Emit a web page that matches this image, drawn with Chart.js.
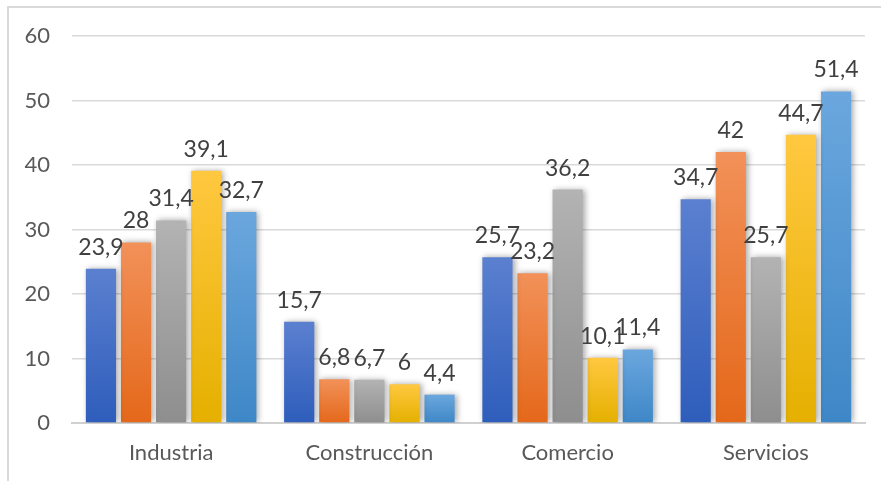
<!DOCTYPE html>
<html><head><meta charset="utf-8">
<style>
html,body{margin:0;padding:0;background:#fff;}
#wrap{position:relative;width:881px;height:481px;overflow:hidden;}
#frame{position:absolute;left:7px;top:6px;width:900px;height:500px;border:2px solid #d9d9d9;box-sizing:border-box;}
canvas{position:absolute;left:0;top:0;}
</style>
<script src="https://cdn.jsdelivr.net/npm/chart.js@4/dist/chart.umd.min.js"></script>
</head><body>
<div id="wrap"><div id="frame"></div><canvas id="c" width="881" height="481"></canvas></div>
<script>
const categories = ["Industria","Construcción","Comercio","Servicios"];
const serie1 = [23.9, 15.7, 25.7, 34.7];
const serie2 = [28, 6.8, 23.2, 42];
const serie3 = [31.4, 6.7, 36.2, 25.7];
const serie4 = [39.1, 6, 10.1, 44.7];
const serie5 = [32.7, 4.4, 11.4, 51.4];
const yTicks = [0,10,20,30,40,50,60];

const gradStops = [
  ["#5b80d0","#2e5dbb"],
  ["#f29159","#e4681a"],
  ["#b3b3b3","#8e8e8e"],
  ["#ffc840","#e5b000"],
  ["#6ba7de","#3e87c7"]
];
function grad(i){
  return function(context){
    const chart = context.chart;
    const area = chart.chartArea;
    if(!area) return gradStops[i][1];
    const y0 = chart.scales.y.getPixelForValue(0);
    const top = chart.scales.y.getPixelForValue(context.raw || 0);
    const g = chart.ctx.createLinearGradient(0, top, 0, y0);
    g.addColorStop(0, gradStops[i][0]);
    g.addColorStop(1, gradStops[i][1]);
    return g;
  };
}
const series = [serie1,serie2,serie3,serie4,serie5];
const datasets = series.map((d,i)=>({label:"S"+(i+1), data:d, backgroundColor:grad(i), borderWidth:0}));
const FONT = "Lato, 'Open Sans', sans-serif";

const shadowPlugin = {
  id:"shadow",
  beforeDatasetsDraw(chart){
    const ctx = chart.ctx; ctx.save();
    ctx.shadowColor="rgba(0,0,0,0.35)"; ctx.shadowBlur=6; ctx.shadowOffsetX=2; ctx.shadowOffsetY=0;
  },
  afterDatasetsDraw(chart){ chart.ctx.restore(); }
};
const labelPlugin = {
  id:"labels",
  afterDatasetsDraw(chart){
    const ctx = chart.ctx;
    ctx.save();
    ctx.font = "23px " + FONT;
    ctx.fillStyle = "#404040";
    ctx.textAlign = "center";
    ctx.textBaseline = "alphabetic";
    chart.data.datasets.forEach((ds,di)=>{
      chart.getDatasetMeta(di).data.forEach((bar,j)=>{
        const v = ds.data[j];
        ctx.fillText(String(v).replace(".",","), bar.x, bar.y - 14);
      });
    });
    ctx.restore();
  }
};
new Chart(document.getElementById("c"),{
  type:"bar",
  data:{labels:categories, datasets},
  plugins:[shadowPlugin,labelPlugin],
  options:{
    responsive:false, animation:false,
    layout:{padding:{left:8,right:16,top:36,bottom:0}},
    plugins:{legend:{display:false},tooltip:{enabled:false}},
    datasets:{bar:{categoryPercentage:0.885,barPercentage:0.86}},
    scales:{
      x:{grid:{display:false},border:{display:true,color:"#d0d0d0",width:2},
         afterFit:(s)=>{s.height=58;},
         ticks:{color:"#595959",font:{family:FONT,size:22},padding:9}},
      y:{min:0,max:60,afterBuildTicks:(s)=>{s.ticks=yTicks.map(v=>({value:v}));},
         afterFit:(s)=>{s.width=64;},
         grid:{color:"#d9d9d9",lineWidth:1.5,drawTicks:false},
         border:{display:false},
         ticks:{color:"#595959",font:{family:FONT,size:22},padding:22}}
    }
  }
});
</script>
</body></html>
